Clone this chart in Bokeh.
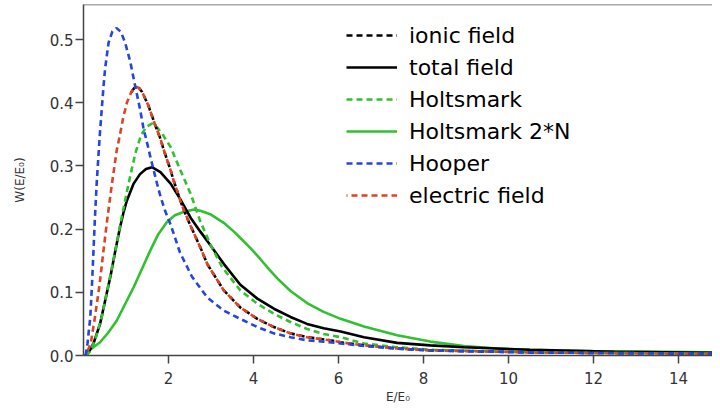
from bokeh.plotting import figure
from bokeh.models import (Range1d, FixedTicker, Legend, LegendItem, Span,
                          NumeralTickFormatter)
from bokeh.embed import file_html
from bokeh.resources import INLINE

# ---------------- data ----------------
hooper_x = [0.05, 0.094, 0.16, 0.2, 0.235, 0.27, 0.31, 0.35, 0.39, 0.43, 0.47,
            0.51, 0.59, 0.68, 0.78, 0.88, 0.98, 1.1, 1.22, 1.33, 1.41, 1.53,
            1.57, 1.73, 1.81, 1.92, 2.05, 2.27, 2.44, 2.55, 2.91, 3.3, 3.69,
            4.09, 4.48, 4.87, 5.26, 5.65, 6.05, 6.6, 7.38, 8.16, 10.5, 12.0,
            15.0]
hooper_y = [0.0, 0.019, 0.061, 0.113, 0.166, 0.219, 0.272, 0.315, 0.355,
            0.39, 0.425, 0.455, 0.495, 0.513, 0.518, 0.512, 0.495, 0.465,
            0.425, 0.39, 0.36, 0.327, 0.315, 0.272, 0.252, 0.229, 0.207,
            0.163, 0.14, 0.125, 0.092, 0.071, 0.058, 0.045, 0.035, 0.029,
            0.024, 0.022, 0.019, 0.015, 0.011, 0.008, 0.005, 0.004, 0.003]

electric_x = [0.05, 0.17, 0.27, 0.38, 0.47, 0.565, 0.67, 0.78, 0.86, 0.93,
              1.02, 1.12, 1.19, 1.25, 1.31, 1.38, 1.53, 1.69, 1.81, 1.88,
              2.05, 2.12, 2.28, 2.35, 2.52, 2.75, 2.91, 3.3, 3.69, 4.09, 4.48,
              4.87, 5.26, 5.81, 6.05, 6.6, 7.38, 8.16, 10.5, 12.0, 15.0]
electric_y = [0.0, 0.019, 0.061, 0.113, 0.166, 0.219, 0.272, 0.324, 0.35,
              0.375, 0.4, 0.416, 0.423, 0.425, 0.423, 0.417, 0.395, 0.364,
              0.343, 0.327, 0.293, 0.277, 0.245, 0.232, 0.205, 0.171, 0.145,
              0.103, 0.076, 0.058, 0.045, 0.035, 0.029, 0.024, 0.021, 0.016,
              0.011, 0.008, 0.005, 0.004, 0.003]

# the black dashed (ionic field) is visible from the peak onwards
ionic_x = [1.12, 1.19, 1.25, 1.31, 1.38, 1.53, 1.69, 1.81, 1.88, 2.05, 2.12,
           2.28, 2.35, 2.52, 2.75, 2.91, 3.3, 3.69, 4.09, 4.48, 4.87, 5.26,
           5.81, 6.05, 6.6, 7.38, 8.16, 10.5, 12.0, 15.0]
ionic_y = [0.416, 0.423, 0.425, 0.423, 0.417, 0.395, 0.364, 0.343, 0.327,
           0.293, 0.277, 0.245, 0.232, 0.205, 0.171, 0.145, 0.103, 0.076,
           0.058, 0.045, 0.035, 0.029, 0.024, 0.021, 0.016, 0.011, 0.008,
           0.005, 0.004, 0.003]

holts_x = [0.05, 0.15, 0.27, 0.43, 0.59, 0.75, 0.9, 1.06, 1.22, 1.35, 1.48,
           1.61, 1.73, 1.88, 2.05, 2.28, 2.52, 2.75, 2.99, 3.26, 3.69, 4.09,
           4.48, 4.87, 5.26, 5.65, 6.05, 6.6, 7.38, 8.16, 10.5, 12.0, 15.0]
holts_y = [0.0, 0.006, 0.024, 0.061, 0.113, 0.166, 0.219, 0.272, 0.32,
           0.348, 0.362, 0.367, 0.361, 0.348, 0.33, 0.293, 0.256, 0.212,
           0.175, 0.14, 0.103, 0.082, 0.066, 0.053, 0.042, 0.034, 0.029,
           0.019, 0.013, 0.009, 0.005, 0.004, 0.003]

total_x = [0.05, 0.12, 0.235, 0.39, 0.51, 0.63, 0.75, 0.86, 0.94, 1.02, 1.18,
           1.33, 1.47, 1.61, 1.81, 2.05, 2.16, 2.28, 2.43, 2.52, 2.75, 2.99,
           3.3, 3.69, 4.09, 4.48, 4.87, 5.26, 5.65, 6.05, 6.6, 7.38, 8.16,
           8.95, 10.5, 12.5, 15.0]
total_y = [0.0, 0.005, 0.019, 0.05, 0.087, 0.124, 0.166, 0.203, 0.226,
           0.245, 0.272, 0.287, 0.295, 0.298, 0.29, 0.272, 0.26, 0.247,
           0.229, 0.218, 0.196, 0.174, 0.145, 0.112, 0.09, 0.074, 0.061,
           0.05, 0.043, 0.038, 0.029, 0.02, 0.016, 0.013, 0.009, 0.006,
           0.004]

holts2n_x = [0.05, 0.08, 0.39, 0.58, 0.78, 1.18, 1.57, 1.76, 1.96, 2.15,
             2.35, 2.6, 2.75, 3.0, 3.3, 3.54, 3.69, 3.93, 4.09, 4.32, 4.56,
             4.87, 5.26, 5.65, 6.05, 6.6, 7.38, 8.16, 8.95, 9.73, 10.5,
             12.0, 15.0]
holts2n_y = [0.0, 0.005, 0.021, 0.036, 0.055, 0.108, 0.166, 0.192, 0.211,
             0.222, 0.227, 0.231, 0.229, 0.223, 0.21, 0.196, 0.186, 0.17,
             0.158, 0.14, 0.122, 0.102, 0.083, 0.069, 0.058, 0.046, 0.032,
             0.022, 0.015, 0.011, 0.009, 0.007, 0.005]

x_ticks = [2, 4, 6, 8, 10, 12, 14]
y_ticks = [0.0, 0.1, 0.2, 0.3, 0.4, 0.5]

FONT = "DejaVu Sans"
BLUE = "#2446dc"
RED = "#dc4426"
GREEN = "#30c030"
Y_END = 0.5554

p = figure(width=712, height=406, output_backend="svg", toolbar_location=None,
           x_range=Range1d(0, 14.8), y_range=Range1d(0, Y_END),
           min_border_left=83, min_border_right=0, min_border_top=4,
           min_border_bottom=51)
p.outline_line_color = None
p.grid.visible = False
p.background_fill_color = "white"
p.border_fill_color = "white"

# top frame line
p.add_layout(Span(location=Y_END, dimension="width", line_color="#555555",
                  line_width=1.5))

w = 2.6
r_h2n = p.line(holts2n_x, holts2n_y, line_color=GREEN, line_width=w)
r_tot = p.line(total_x, total_y, line_color="black", line_width=w)
r_hol = p.line(holts_x, holts_y, line_color=GREEN, line_width=w,
               line_dash="6 4")
r_ion = p.line(ionic_x, ionic_y, line_color="black", line_width=w,
               line_dash="6 4")
r_ele = p.line(electric_x, electric_y, line_color=RED, line_width=w,
               line_dash="6 4", line_dash_offset=5)
r_hoo = p.line(hooper_x, hooper_y, line_color=BLUE, line_width=w,
               line_dash="6 4")

legend = Legend(items=[
    LegendItem(label="ionic field", renderers=[r_ion]),
    LegendItem(label="total field", renderers=[r_tot]),
    LegendItem(label="Holtsmark", renderers=[r_hol]),
    LegendItem(label="Holtsmark 2*N", renderers=[r_h2n]),
    LegendItem(label="Hooper", renderers=[r_hoo]),
    LegendItem(label="electric field", renderers=[r_ele]),
], location=(263, 147))
legend.background_fill_alpha = 0
legend.border_line_color = None
legend.padding = 0
legend.margin = 0
legend.spacing = 6
legend.glyph_width = 51
legend.glyph_height = 26
legend.label_height = 26
legend.label_standoff = 12
legend.label_text_font = FONT
legend.label_text_font_size = "22px"
legend.label_text_color = "black"
p.add_layout(legend, "center")

for ax in (p.xaxis[0], p.yaxis[0]):
    ax.axis_line_color = "#444444"
    ax.axis_line_width = 1.5
    ax.major_tick_line_color = "#444444"
    ax.major_tick_line_width = 1.5
    ax.major_tick_out = 8
    ax.major_tick_in = 0
    ax.minor_tick_out = 0
    ax.minor_tick_in = 0
    ax.major_label_text_font = FONT
    ax.major_label_text_font_size = "15px"
    ax.major_label_text_color = "#333333"
    ax.axis_label_text_font = FONT
    ax.axis_label_text_font_size = "12px"
    ax.axis_label_text_font_style = "normal"
    ax.axis_label_text_color = "#333333"

p.xaxis.ticker = FixedTicker(ticks=x_ticks)
p.yaxis.ticker = FixedTicker(ticks=y_ticks)
p.yaxis.formatter = NumeralTickFormatter(format="0.0")
p.xaxis.axis_label = "E/E\u2080"
p.yaxis.axis_label = "W(E/E\u2080)"
p.xaxis.major_label_standoff = 8
p.xaxis.axis_label_standoff = 3
p.yaxis.major_label_standoff = 2
p.yaxis.axis_label_standoff = 20

open("out.html", "w").write(file_html(p, INLINE))
